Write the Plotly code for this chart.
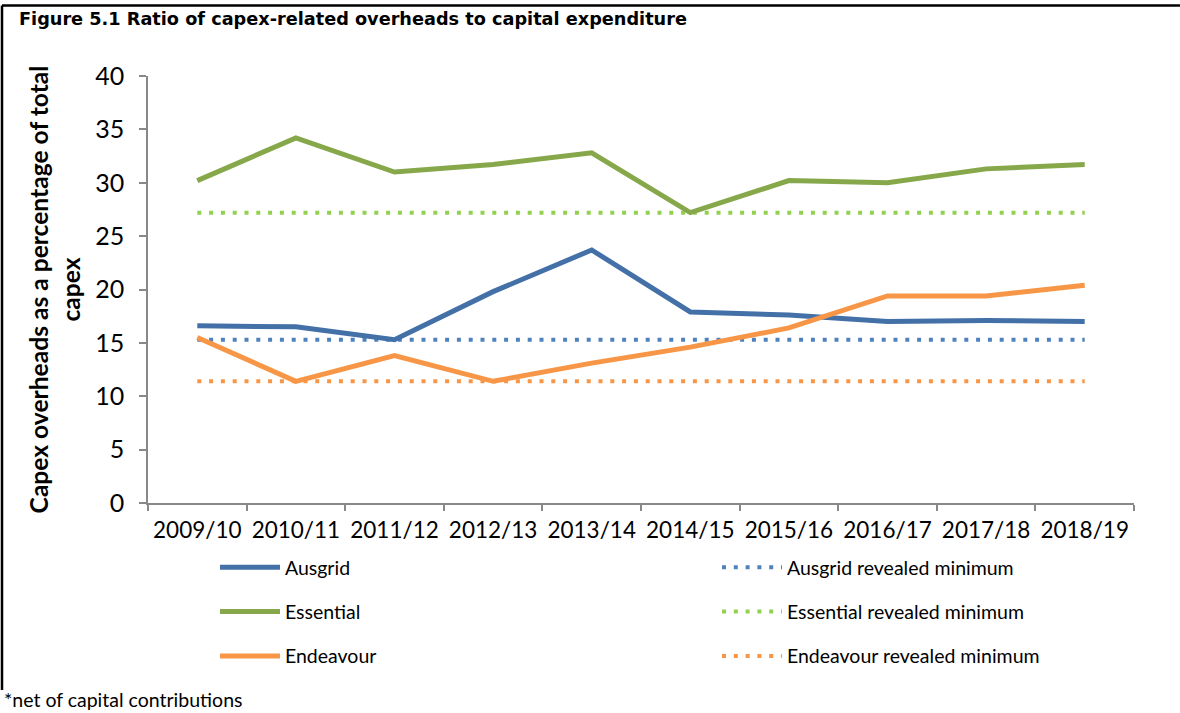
import plotly.graph_objects as go

years = ["2009/10", "2010/11", "2011/12", "2012/13", "2013/14",
         "2014/15", "2015/16", "2016/17", "2017/18", "2018/19"]
ausgrid = [16.6, 16.5, 15.3, 19.8, 23.7, 17.9, 17.6, 17.0, 17.1, 17.0]
essential = [30.2, 34.2, 31.0, 31.7, 32.8, 27.2, 30.2, 30.0, 31.3, 31.7]
endeavour = [15.5, 11.4, 13.8, 11.4, 13.1, 14.6, 16.4, 19.4, 19.4, 20.4]
ausgrid_min = 15.3
essential_min = 27.2
endeavour_min = 11.4

c_blue = "#4470a8"
c_green = "#86a84a"
c_orange = "#f79646"
c_blue_dot = "#4f81bd"
c_green_dot = "#92d050"
c_orange_dot = "#f79646"

FONT = "Lato"
L, R, T, B = 148, 46, 76, 210
W, H = 1180, 713
PW, PH = W - L - R, H - T - B


def px(x):
    return (x - L) / PW


def py(y):
    return (H - B - y) / PH


fig = go.Figure()

solid = [("Ausgrid", ausgrid, c_blue), ("Essential", essential, c_green),
         ("Endeavour", endeavour, c_orange)]
mins = [("Ausgrid revealed minimum", ausgrid_min, c_blue_dot),
        ("Essential revealed minimum", essential_min, c_green_dot),
        ("Endeavour revealed minimum", endeavour_min, c_orange_dot)]

for name, v, col in mins:
    fig.add_trace(go.Scatter(x=years, y=[v] * len(years), mode="lines", name=name,
                             line=dict(color=col, width=4, dash="4px,7.8px"),
                             legend="legend2", legendgroup=name))
for name, vals, col in solid:
    fig.add_trace(go.Scatter(x=years, y=vals, mode="lines", name=name,
                             line=dict(color=col, width=5),
                             legend="legend", legendgroup=name))

leg_common = dict(yanchor="top", xanchor="left", orientation="v",
                  tracegroupgap=16, itemwidth=60, traceorder="grouped",
                  font=dict(family=FONT, size=19.5), bgcolor="rgba(0,0,0,0)")

fig.update_layout(
    width=W, height=H,
    margin=dict(l=L, r=R, t=T, b=B),
    paper_bgcolor="white", plot_bgcolor="white",
    font=dict(family=FONT, color="black", size=17),
    showlegend=True,
    legend=dict(x=px(215), y=py(548), **leg_common),
    legend2=dict(x=px(717), y=py(548), **leg_common),
    xaxis=dict(type="category", range=[-0.5, 9.5], showgrid=False,
               showline=True, linecolor="#888888", linewidth=1.5,
               ticks="outside", tickson="boundaries", ticklen=6,
               tickcolor="#888888", tickwidth=1.5, ticklabelstandoff=6,
               tickfont=dict(family=FONT, size=22.5), zeroline=False),
    yaxis=dict(range=[0, 40], dtick=5, showgrid=False,
               showline=True, linecolor="#888888", linewidth=1.5,
               ticks="outside", ticklen=7, tickcolor="#888888", tickwidth=1.5,
               ticklabelstandoff=10,
               tickfont=dict(family=FONT, size=25), zeroline=False,
               title=dict(text="<b>Capex overheads as a percentage of total<br>capex</b>",
                          font=dict(family=FONT, size=24.6), standoff=8)),
)

fig.add_annotation(text="<b>Figure 5.1 Ratio of capex-related overheads to capital expenditure</b>",
                   xref="paper", yref="paper", x=px(17), y=py(19),
                   xanchor="left", yanchor="middle", showarrow=False,
                   font=dict(family="DejaVu Sans", size=17.7, color="black"))
fig.add_annotation(text="*net of capital contributions",
                   xref="paper", yref="paper", x=px(3), y=py(712),
                   xanchor="left", yanchor="bottom", showarrow=False, borderpad=0,
                   font=dict(family=FONT, size=19.5, color="black"))

# outer frame (top and left edges)
fig.add_shape(type="line", xref="paper", yref="paper",
              x0=px(2), x1=px(1180), y0=py(5.5), y1=py(5.5),
              line=dict(color="black", width=2.5))
fig.add_shape(type="line", xref="paper", yref="paper",
              x0=px(2), x1=px(2), y0=py(5.5), y1=py(690),
              line=dict(color="black", width=2.5))

fig.write_html("out.html", config={"displayModeBar": False},
               post_script="document.body.style.margin='0';")
